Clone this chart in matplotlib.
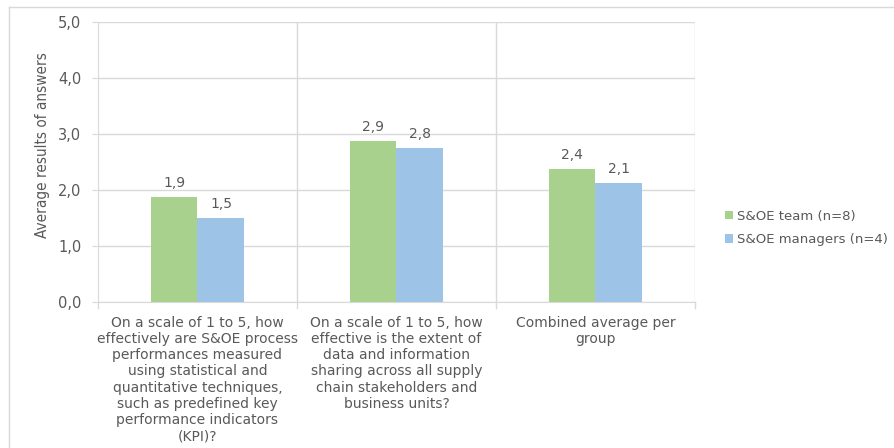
import matplotlib.pyplot as plt
import numpy as np
from matplotlib.lines import Line2D

plt.rcParams["font.family"] = ["DejaVu Sans"]

questions = [
    "On a scale of 1 to 5, how\neffectively are S&OE process\nperformances measured\nusing statistical and\nquantitative techniques,\nsuch as predefined key\nperformance indicators\n(KPI)?",
    "On a scale of 1 to 5, how\neffective is the extent of\ndata and information\nsharing across all supply\nchain stakeholders and\nbusiness units?",
    "Combined average per\ngroup",
]
team = [1.875, 2.875, 2.375]
managers = [1.5, 2.75, 2.125]
series_names = ["S&OE team (n=8)", "S&OE managers (n=4)"]
colors = ["#A9D18E", "#9DC3E6"]

grid_color = "#D9D9D9"
text_color = "#595959"

fig = plt.figure(figsize=(8.95, 4.48), dpi=100)
ax = fig.add_axes([98 / 895, 1 - 302 / 448, 597 / 895, 280 / 448])

x = np.arange(len(questions))
width = 0.236
for vals, name, col, off in [(team, series_names[0], colors[0], -width / 2),
                             (managers, series_names[1], colors[1], width / 2)]:
    bars = ax.bar(x + off, vals, width, color=col, label=name, zorder=3)
    for b, v in zip(bars, vals):
        ax.text(b.get_x() + b.get_width() / 2, v + 0.12, f"{v:.1f}".replace(".", ","),
                ha="center", va="bottom", fontsize=10, color=text_color)

ax.set_xlim(-0.5, 2.5)
ax.set_ylim(0, 5)
ax.set_yticks(np.arange(0, 5.1, 1))
ax.set_yticklabels([f"{t:.1f}".replace(".", ",") for t in np.arange(0, 5.1, 1)])
ax.yaxis.grid(True, color=grid_color, linewidth=1, zorder=0)

# category separators
for b in [0.5, 1.5, 2.5]:
    ax.axvline(b, color=grid_color, linewidth=1, zorder=0)

ax.set_xticks(x)
ax.set_xticklabels(questions, fontsize=10, color=text_color, linespacing=1.2, va="top")
ax.tick_params(axis="x", length=0, pad=10)
ax.tick_params(axis="y", length=4, color=grid_color, labelsize=10.5,
               labelcolor=text_color, pad=8)
for s in ["top", "right"]:
    ax.spines[s].set_visible(False)
ax.spines["bottom"].set_color(grid_color)
ax.spines["left"].set_color(grid_color)

# small stubs under the category boundaries
for b in [-0.5, 0.5, 1.5, 2.5]:
    ax.plot([b, b], [0, -0.1], color=grid_color, linewidth=1, clip_on=False)

ax.set_ylabel("Average results of answers", fontsize=11, color=text_color,
              fontstretch="condensed")
ax.yaxis.set_label_coords(-0.08, 0.56)

ax.legend(loc="center left", bbox_to_anchor=(1.03, 0.265), frameon=False,
          fontsize=9.5, labelcolor=text_color, handlelength=0.6, handleheight=0.6,
          handletextpad=0.3, labelspacing=0.8)

# outer chart border
fig.add_artist(Line2D([9 / 895, 1], [1 - 7 / 448, 1 - 7 / 448], color=grid_color,
                      linewidth=1, transform=fig.transFigure))
fig.add_artist(Line2D([9 / 895, 9 / 895], [0, 1 - 7 / 448], color=grid_color,
                      linewidth=1, transform=fig.transFigure))

fig.savefig("out.png", dpi=100)
